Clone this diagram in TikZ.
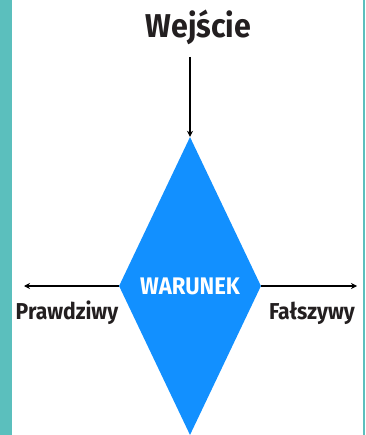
\documentclass[tikz,border=0pt]{standalone}
\usepackage{fontspec}
\setmainfont{Fira Sans}[BoldFont={Fira Sans Bold}]
\newfontfamily\condb{Fira Sans Bold}[FakeStretch=0.92]
\usetikzlibrary{shapes.geometric,arrows.meta}
\definecolor{teal1}{HTML}{5BBFBD}
\definecolor{blue1}{HTML}{1290FF}
\definecolor{ink}{HTML}{231F20}
\begin{document}
\begin{tikzpicture}[x=1pt,y=-1pt,
  lbl/.style={font=\condb\fontsize{23}{23}\selectfont, text=ink, inner sep=0pt, anchor=base},
  arr/.style={draw=black, line width=1.1pt, -{Stealth[length=6pt,width=6pt]}}]
\useasboundingbox (0,0) rectangle (365,435);
\fill[white] (0,0) rectangle (365,435);
\fill[teal1] (0,0) rectangle (12,435);
\fill[teal1] (362.5,0) rectangle (365,435);
\node[diamond, fill=blue1, minimum width=142pt, minimum height=298pt, inner sep=0pt] (d) at (190,286) {};
\node[inner sep=0pt, anchor=base, text=white, font=\condb\fontsize{24}{24}\selectfont] (w) at (190,294.5) {WARUNEK};
\node[lbl, font=\condb\fontsize{33}{33}\selectfont] (in) at (198.5,38) {Wejście};
\coordinate (ins) at (190,57);
\node[lbl] (p) at (67,319.5) {Prawdziwy};
\node[lbl] (f) at (312,319.5) {Fałszywy};
\coordinate (le) at (24,286);
\coordinate (re) at (357,286);
\draw[arr] (ins) -- (d.north);
\draw[arr] (d.west) -- (le);
\draw[arr] (d.east) -- (re);
\end{tikzpicture}
\end{document}
